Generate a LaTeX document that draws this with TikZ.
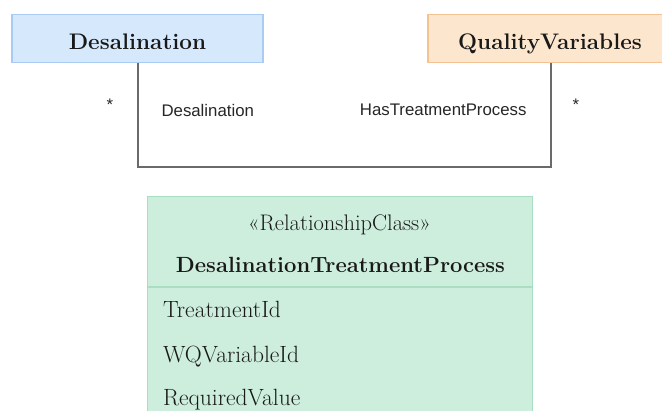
\documentclass[tikz,border=0pt]{standalone}
\usepackage{fontspec}
\newfontfamily\labelfont{Liberation Sans}
\definecolor{desalfill}{HTML}{D5E8FC}
\definecolor{desaldraw}{HTML}{A8CCF3}
\definecolor{qvfill}{HTML}{FDE6CE}
\definecolor{qvdraw}{HTML}{F5C291}
\definecolor{relfill}{HTML}{CDEEDD}
\definecolor{reldraw}{HTML}{A9DEC3}
\definecolor{linkgray}{HTML}{6A6A6A}
\begin{document}
\begin{tikzpicture}[x=1pt,y=-1pt,
    classbox/.style={draw, line width=1.4pt, minimum height=48pt, text height=22pt, text depth=0pt,
      font=\fontsize{22.5}{26}\selectfont\bfseries, text=black!90},
    rolelabel/.style={font=\labelfont\fontsize{16.8}{20}\selectfont, text=black!85},
    entry/.style={anchor=base west, font=\fontsize{23.5}{27}\selectfont, text=black!90}]
  \useasboundingbox (0,0) rectangle (662,411);
  \clip (0,0) rectangle (662,411);
  % the two classes
  \node [classbox, fill=desalfill, draw=desaldraw, minimum width=251pt] (desal) at (137.5,38.5) {Desalination};
  \node [classbox, fill=qvfill, draw=qvdraw, minimum width=244pt] (qv) at (550,38.5) {QualityVariables};
  % association
  \coordinate (bendleft) at (138,167);
  \coordinate (bendright) at (551,167);
  \draw [linkgray, line width=1.2pt] (desal.south -| bendleft) -- (bendleft) -- (bendright) -- (qv.south -| bendright);
  \node [rolelabel] (mleft) at (110,105) {*};
  \node [rolelabel, anchor=west] (roleleft) at (158,110) {Desalination};
  \node [rolelabel, anchor=east] (roleright) at (530,110) {HasTreatmentProcess};
  \node [rolelabel] (mright) at (576,105) {*};
  % relationship class
  \node [draw=reldraw, fill=relfill, line width=1.4pt, anchor=north west, minimum width=385pt, minimum height=240pt] (relbox) at (147,196) {};
  \coordinate (divy) at (0,287);
  \draw [reldraw, line width=1.4pt] (relbox.west |- divy) -- (relbox.east |- divy);
  \node [anchor=base, font=\fontsize{22.5}{26}\selectfont, text=black!90] (relstereo) at (339.5,231) {«RelationshipClass»};
  \node [anchor=base, font=\fontsize{22}{26}\selectfont\bfseries, text=black!90] (relname) at (340.5,273) {DesalinationTreatmentProcess};
  \node [entry] (treatid) at (159.5,318) {TreatmentId};
  \node [entry] (wqid) at (159.5,363) {WQVariableId};
  \node [entry] (reqval) at (159.5,406) {RequiredValue};
\end{tikzpicture}
\end{document}
